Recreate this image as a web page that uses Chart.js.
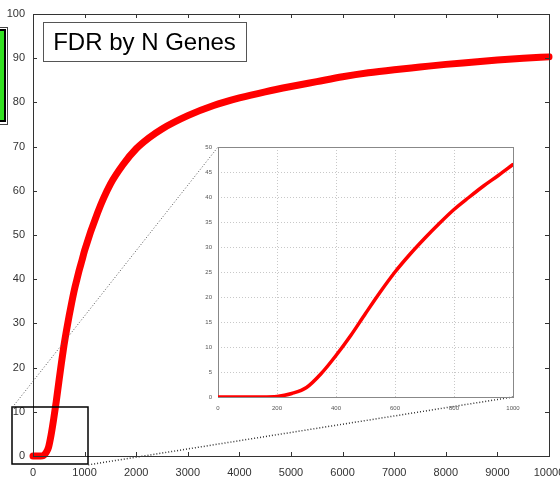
<!DOCTYPE html>
<html>
<head>
<meta charset="utf-8">
<script src="https://cdn.jsdelivr.net/npm/chart.js@4.4.1/dist/chart.umd.min.js"></script>
<style>
  html, body { margin: 0; padding: 0; background: #fff; }
  #wrap { position: relative; width: 560px; height: 480px; overflow: hidden; }
  #main { position: absolute; left: 0; top: 0; }
  #insetBox { position: absolute; left: 190px; top: 137px; width: 335px; height: 280px; }
</style>
</head>
<body>
<div id="wrap">
  <canvas id="main" width="560" height="480"></canvas>
  <div id="insetBox"><canvas id="inset" width="335" height="280"></canvas></div>
</div>
<script>
// values
const nGenes = [0, 100, 150, 200, 250, 300, 350, 400, 450, 500, 550, 600, 650, 700, 750, 800, 850, 900, 950, 1000,
  1250, 1500, 1750, 2000, 2250, 2500, 3000, 3500, 4000, 4500, 5000, 5500, 6000, 6500, 7000, 7500, 8000, 8500, 9000, 9500, 10000];
const fdr = [0, 0, 0, 0.1, 0.7, 1.9, 4.7, 8.3, 12.3, 16.7, 21, 25, 28.5, 31.7, 34.7, 37.5, 39.9, 42.2, 44.3, 46.5,
  55, 61.5, 66, 69.5, 72, 74, 77, 79.3, 81, 82.4, 83.6, 84.7, 85.8, 86.7, 87.4, 88, 88.6, 89.1, 89.6, 90, 90.3];

const titleText = 'FDR by N Genes';
const zoomX = [-400, 1070];   // zoom rectangle in main data units
const zoomY = [-2, 11];

const font = "'Liberation Sans', Arial, sans-serif";
const points = nGenes.map((n, i) => ({ x: n, y: fdr[i] }));
const zoomPoints = points.filter(p => p.x <= 1000);
const plain = v => String(v);

// ---------- inset ----------
const insetGrid = {
  id: 'insetGrid',
  beforeDatasetsDraw(chart) {
    const { ctx, chartArea: a, scales } = chart;
    ctx.save();
    ctx.strokeStyle = '#c8c8c8';
    ctx.lineWidth = 1;
    ctx.setLineDash([1, 2]);
    scales.x.ticks.forEach(t => {
      const x = Math.round(scales.x.getPixelForValue(t.value)) + 0.5;
      ctx.beginPath(); ctx.moveTo(x, a.top); ctx.lineTo(x, a.bottom); ctx.stroke();
    });
    scales.y.ticks.forEach(t => {
      const y = Math.round(scales.y.getPixelForValue(t.value)) + 0.5;
      ctx.beginPath(); ctx.moveTo(a.left, y); ctx.lineTo(a.right, y); ctx.stroke();
    });
    ctx.setLineDash([]);
    ctx.strokeStyle = '#888';
    ctx.strokeRect(a.left + 0.5, a.top + 0.5, a.right - a.left, a.bottom - a.top);
    ctx.restore();
  }
};

const insetChart = new Chart(document.getElementById('inset'), {
  type: 'line',
  data: {
    datasets: [{
      data: zoomPoints,
      borderColor: '#ff0000',
      borderWidth: 3.5,
      pointRadius: 0,
      cubicInterpolationMode: 'monotone',
      borderCapStyle: 'round'
    }]
  },
  options: {
    responsive: false,
    animation: false,
    events: [],
    layout: { padding: { top: 10, right: 12, left: 0, bottom: 0 } },
    plugins: { legend: { display: false }, tooltip: { enabled: false } },
    scales: {
      x: {
        type: 'linear', min: 0, max: 1000,
        grid: { display: false, drawTicks: false },
        border: { display: false },
        ticks: { stepSize: 200, padding: 8, color: '#555', font: { family: font, size: 6 }, maxRotation: 0, callback: plain },
        afterFit(s) { s.height = 20; s.paddingLeft = 0; s.paddingRight = 0; }
      },
      y: {
        min: 0, max: 50,
        grid: { display: false, drawTicks: false },
        border: { display: false },
        ticks: { stepSize: 5, padding: 6, color: '#555', font: { family: font, size: 6 }, callback: plain },
        afterFit(s) { s.width = 28; s.paddingTop = 0; s.paddingBottom = 0; }
      }
    }
  },
  plugins: [insetGrid]
});

// ---------- main ----------
const insetOffset = { x: 190, y: 137 };

const mainDecor = {
  id: 'mainDecor',
  afterDatasetsDraw(chart) {
    const { ctx, chartArea: a, scales } = chart;
    const sx = scales.x, sy = scales.y;
    ctx.save();

    // frame + inward ticks on all sides
    ctx.strokeStyle = '#333';
    ctx.lineWidth = 1;
    ctx.strokeRect(a.left + 0.5, a.top + 0.5, a.right - a.left, a.bottom - a.top);
    ctx.beginPath();
    sx.ticks.forEach(t => {
      const x = Math.round(sx.getPixelForValue(t.value)) + 0.5;
      ctx.moveTo(x, a.bottom); ctx.lineTo(x, a.bottom - 4);
      ctx.moveTo(x, a.top); ctx.lineTo(x, a.top + 4);
    });
    sy.ticks.forEach(t => {
      const y = Math.round(sy.getPixelForValue(t.value)) + 0.5;
      ctx.moveTo(a.left, y); ctx.lineTo(a.left + 4, y);
      ctx.moveTo(a.right, y); ctx.lineTo(a.right - 4, y);
    });
    ctx.stroke();

    // zoom rectangle
    const zx0 = sx.getPixelForValue(zoomX[0]), zx1 = sx.getPixelForValue(zoomX[1]);
    const zy0 = sy.getPixelForValue(zoomY[1]), zy1 = sy.getPixelForValue(zoomY[0]);
    ctx.strokeStyle = '#000';
    ctx.lineWidth = 1.5;
    ctx.strokeRect(Math.round(zx0), Math.round(zy0), Math.round(zx1 - zx0), Math.round(zy1 - zy0));

    // connectors to the inset
    const ia = insetChart.chartArea;
    ctx.lineWidth = 1;
    ctx.strokeStyle = '#555';
    ctx.setLineDash([1, 2]);
    ctx.beginPath();
    ctx.moveTo(zx0, zy0);
    ctx.lineTo(insetOffset.x + ia.left, insetOffset.y + ia.top);
    ctx.stroke();
    ctx.lineWidth = 1.5;
    ctx.strokeStyle = '#333';
    ctx.beginPath();
    ctx.moveTo(zx1, zy1);
    ctx.lineTo(insetOffset.x + ia.right, insetOffset.y + ia.bottom);
    ctx.stroke();
    ctx.setLineDash([]);

    // title box
    ctx.fillStyle = '#fff';
    ctx.fillRect(43, 22, 203, 39);
    ctx.strokeStyle = '#555';
    ctx.lineWidth = 1;
    ctx.strokeRect(43.5, 22.5, 203, 39);
    ctx.fillStyle = '#000';
    ctx.font = '24px ' + font;
    ctx.textBaseline = 'middle';
    ctx.textAlign = 'center';
    ctx.fillText(titleText, 144.5, 43);

    // clipped legend swatch on the left edge
    ctx.strokeStyle = '#444';
    ctx.lineWidth = 1;
    ctx.strokeRect(-10.5, 27.5, 18, 97);
    ctx.fillStyle = '#000';
    ctx.fillRect(-10, 29, 16, 93);
    ctx.fillStyle = '#33e022';
    ctx.fillRect(-10, 31, 14, 89);

    ctx.restore();
  }
};

new Chart(document.getElementById('main'), {
  type: 'line',
  data: {
    datasets: [{
      data: points,
      borderColor: '#ff0000',
      borderWidth: 7,
      pointRadius: 0,
      cubicInterpolationMode: 'monotone',
      borderCapStyle: 'round',
      borderJoinStyle: 'round',
      clip: false
    }]
  },
  options: {
    responsive: false,
    animation: false,
    events: [],
    layout: { padding: { top: 14, right: 11, left: 0, bottom: 0 } },
    plugins: { legend: { display: false }, tooltip: { enabled: false } },
    scales: {
      x: {
        type: 'linear', min: 0, max: 10000,
        grid: { display: false, drawTicks: false },
        border: { display: false },
        ticks: { stepSize: 1000, padding: 10, color: '#333', font: { family: font, size: 11 }, maxRotation: 0, autoSkip: false, callback: plain },
        afterFit(s) { s.height = 24; s.paddingLeft = 0; s.paddingRight = 0; }
      },
      y: {
        min: 0, max: 100,
        grid: { display: false, drawTicks: false },
        border: { display: false },
        ticks: { stepSize: 10, padding: 8, color: '#333', font: { family: font, size: 11 }, callback: plain },
        afterFit(s) { s.width = 33; s.paddingTop = 0; s.paddingBottom = 0; }
      }
    }
  },
  plugins: [mainDecor]
});
</script>
</body>
</html>
